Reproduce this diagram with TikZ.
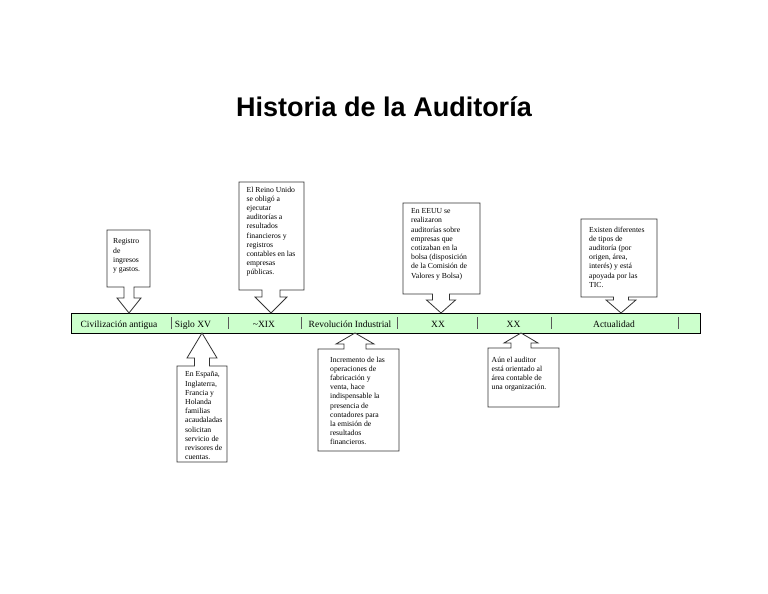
\documentclass[tikz,border=0pt]{standalone}
\usepackage{fontspec}
\setmainfont{Liberation Serif}
\newfontfamily\titulofont{Liberation Sans}
\definecolor{verdebarra}{HTML}{CCFFCC}

% llamada con flecha hacia abajo: izq, arriba, der, abajo, punta x, medio tallo, media cabeza, inicio cabeza
\newcommand{\llamadaabajo}[8]{%
  \draw[llamada] (#1,#2) -- (#3,#2) -- (#3,#4) -- ({#5+#6},#4) -- ({#5+#6},#8)
    -- ({#5+#7},#8) -- (#5,313) -- ({#5-#7},#8) -- ({#5-#6},#8) -- ({#5-#6},#4)
    -- (#1,#4) -- cycle;}
% llamada con flecha hacia arriba: izq, arriba, der, abajo, punta x, medio tallo, media cabeza, fin cabeza
\newcommand{\llamadaarriba}[8]{%
  \draw[llamada] (#1,#4) -- (#3,#4) -- (#3,#2) -- ({#5+#6},#2) -- ({#5+#6},#8)
    -- ({#5+#7},#8) -- (#5,333) -- ({#5-#7},#8) -- ({#5-#6},#8) -- ({#5-#6},#2)
    -- (#1,#2) -- cycle;}

\begin{document}
\begin{tikzpicture}[x=1pt, y=-1pt,
    llamada/.style={draw=black!80, fill=white, line width=0.8pt, line join=miter},
    texto/.style={font=\fontsize{7.7}{9.2}\selectfont, align=left, inner sep=0pt, anchor=north west},
    etiqueta/.style={font=\fontsize{9.5}{11}\selectfont, inner sep=0pt, anchor=base},
    separador/.style={draw=black!65, line width=0.8pt}]
    \useasboundingbox (0,0) rectangle (768,594);

    % titulo
    \node[font=\titulofont\bfseries\fontsize{27}{30}\selectfont, anchor=base] (titulo) at (384,116) {Historia de la Auditoría};

    % barra de tiempo
    \node[draw=black, fill=verdebarra, line width=1.2pt, minimum width=629pt, minimum height=20pt,
          inner sep=0pt, anchor=north west] (barra) at (71,313) {};
    \foreach \sx in {171,228,301,397.5,477,551,678}
        \draw[separador] (\sx,317) -- (\sx,329);

    % etapas
    \node[etiqueta] (civ) at (119,327.3) {Civilización antigua};
    \node[etiqueta] (siglo) at (193,327.3) {Siglo XV};
    \node[etiqueta] (xix) at (264,327.3) {\textasciitilde XIX};
    \node[etiqueta] (revol) at (350,327.3) {Revolución Industrial};
    \node[etiqueta] (xxa) at (438,327.3) {XX};
    \node[etiqueta] (xxb) at (513.5,327.3) {XX};
    \node[etiqueta] (actual) at (614,327.3) {Actualidad};

    % llamadas de arriba
    \llamadaabajo{107}{230}{150}{287}{129}{5}{12}{298}
    \node[texto] (registro) at (113,238.5) {Registro\\de\\ingresos\\y gastos.};

    \llamadaabajo{239}{182}{304}{290}{271}{9}{16}{297}
    \node[texto] (reino) at (246.5,186.5) {El Reino Unido\\se obligó a\\ejecutar\\auditorías a\\resultados\\financieros y\\registros\\contables en las\\empresas\\públicas.};

    \llamadaabajo{403}{203}{480}{294}{441}{8.5}{14.5}{300}
    \node[texto] (eeuu) at (411,208.5) {En EEUU se\\realizaron\\auditorías sobre\\empresas que\\cotizaban en la\\bolsa (disposición\\de la Comisión de\\Valores y Bolsa)};

    \llamadaabajo{581}{219}{657}{297}{621}{7.5}{15}{300}
    \node[texto] (existen) at (589,226.5) {Existen diferentes\\de tipos de\\auditoría (por\\origen, área,\\interés) y está\\apoyada por las\\TIC.};

    % llamadas de abajo
    \llamadaarriba{177}{366}{227}{462}{202}{7.5}{15}{358}
    \node[texto] (espana) at (185,371.5) {En España,\\Inglaterra,\\Francia y\\Holanda\\familias\\acaudaladas\\solicitan\\servicio de\\revisores de\\cuentas.};

    \llamadaarriba{318}{349}{399}{451}{355}{11}{19}{344}
    \node[texto] (incremento) at (330,356.5) {Incremento de las\\operaciones de\\fabricación y\\venta, hace\\indispensable la\\presencia de\\contadores para\\la emisión de\\resultados\\financieros.};

    \llamadaarriba{488}{348}{559}{407}{521}{10}{17}{343}
    \node[texto] (aun) at (491.5,356.5) {Aún el auditor\\está orientado al\\área contable de\\una organización.};
\end{tikzpicture}
\end{document}
